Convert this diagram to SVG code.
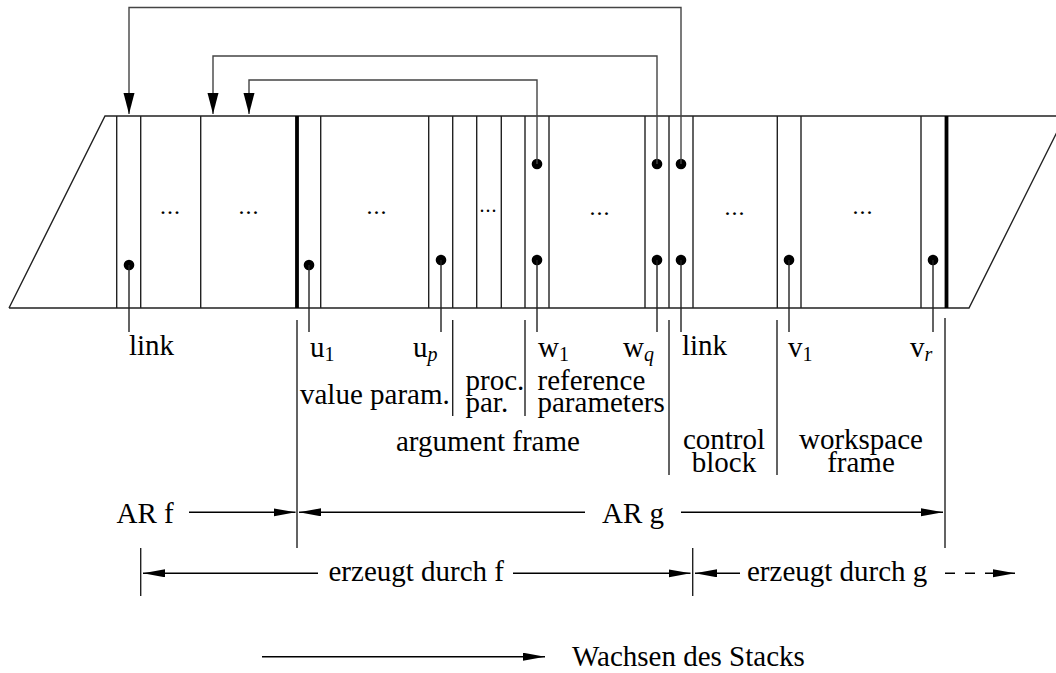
<svg xmlns="http://www.w3.org/2000/svg" width="1056" height="673" viewBox="0 0 1056 673">
<style>
.t{font-family:"Liberation Serif","Times New Roman",serif;font-size:29px;fill:#000}
.s{font-size:20px}
.i{font-style:italic}
.dd{font-size:24px;letter-spacing:1px}
.st{stroke:#222;stroke-width:1.4;fill:none}
.thick{stroke:#000;stroke-width:3.8;fill:none}
.cn{stroke:#444;stroke-width:1.4;fill:none}
.dim{stroke:#000;stroke-width:1.6;fill:none}
.dot{fill:#000}
</style>
<defs>
<marker id="ah" markerUnits="userSpaceOnUse" markerWidth="22" markerHeight="12" refX="21" refY="5.5" orient="auto"><path d="M0,0 L21,5.5 L0,11 z" fill="#000"/></marker>
<marker id="ad" markerUnits="userSpaceOnUse" markerWidth="23" markerHeight="9" refX="22" refY="4" orient="auto-start-reverse"><path d="M0,0 L22,4 L0,8 z" fill="#000"/></marker>
</defs>

<g id="stack">
<path class="st" d="M9,308 L105,116 L1070,116 M9,308 L969,308 L1065,116"/>
<path class="st" d="M116.7,116V308 M140.7,116V308 M200.7,116V308 M320.7,116V308 M428.7,116V308 M452.7,116V308 M476.7,116V308 M501.3,116V308 M525,116V308 M549,116V308 M645,116V308 M669,116V308 M693,116V308 M777.3,116V308 M801,116V308 M921,116V308"/>
<path class="thick" d="M297,116V308 M946.5,116V308"/>
<g class="t dd" text-anchor="middle">
<text x="170.5" y="214">...</text>
<text x="249" y="214">...</text>
<text x="377" y="214">...</text>
<text x="488.5" y="212" font-size="20">...</text>
<text x="600" y="215">...</text>
<text x="735" y="215">...</text>
<text x="863" y="214">...</text>
</g>
</g>

<g id="pointers">
<circle class="dot" cx="129" cy="265" r="5.3"/>
<circle class="dot" cx="309" cy="265" r="5.3"/>
<circle class="dot" cx="441" cy="260" r="5.3"/>
<circle class="dot" cx="537" cy="260" r="5.3"/>
<circle class="dot" cx="657" cy="260" r="5.3"/>
<circle class="dot" cx="681" cy="260" r="5.3"/>
<circle class="dot" cx="789" cy="260" r="5.3"/>
<circle class="dot" cx="933" cy="260" r="5.3"/>
<circle class="dot" cx="537" cy="164" r="5.3"/>
<circle class="dot" cx="657" cy="164" r="5.3"/>
<circle class="dot" cx="681" cy="164" r="5.3"/>
<path class="st" d="M129,265V332 M309,265V332 M441,260V332 M537,260V332 M657,260V332 M681,260V332 M789,260V332 M933,260V332"/>
</g>

<g id="connectors">
<path class="cn" d="M681,164 V7.5 H129 V114" marker-end="url(#ah)"/>
<path class="cn" d="M657,164 V56 H213 V114" marker-end="url(#ah)"/>
<path class="cn" d="M537,164 V80 H249 V114" marker-end="url(#ah)"/>
</g>

<g id="partitions">
<path class="st" d="M297,320V548 M452.7,320V416 M525,320V416 M669,320V475 M777,320V475 M945,318V548 M140.7,548V596 M692.7,548V596"/>
</g>

<g id="labels" class="t">
<text x="129" y="355">link</text>
<text x="310" y="357">u<tspan class="s" dy="4">1</tspan></text>
<text x="413" y="357">u<tspan class="s i" dy="4">p</tspan></text>
<text x="538" y="357">w<tspan class="s" dy="4">1</tspan></text>
<text x="623" y="357">w<tspan class="s i" dy="4">q</tspan></text>
<text x="682" y="355">link</text>
<text x="788" y="357">v<tspan class="s" dy="4">1</tspan></text>
<text x="910" y="357">v<tspan class="s i" dy="4">r</tspan></text>
<text x="300" y="404">value param.</text>
<text x="465.5" y="390">proc.<tspan x="465.5" dy="22">par.</tspan></text>
<text x="537.5" y="390">reference<tspan x="537.5" dy="22">parameters</tspan></text>
<text x="396" y="451">argument frame</text>
<text x="724" y="449" text-anchor="middle">control<tspan x="724" dy="23">block</tspan></text>
<text x="861" y="449" text-anchor="middle">workspace<tspan x="861" dy="23">frame</tspan></text>
</g>

<g id="ranges">
<g class="t">
<text x="116.5" y="523">AR f</text>
<text x="602" y="523">AR g</text>
<text x="328.5" y="581">erzeugt durch f</text>
<text x="747" y="581">erzeugt durch g</text>
<text x="572" y="666">Wachsen des Stacks</text>
</g>
<path class="dim" d="M189,512.3 H295.5" marker-end="url(#ad)"/>
<path class="dim" d="M299,512.3 H585" marker-start="url(#ad)"/>
<path class="dim" d="M681,512.3 H943" marker-end="url(#ad)"/>
<path class="dim" d="M143,573.3 H318" marker-start="url(#ad)"/>
<path class="dim" d="M513,573.3 H690.5" marker-end="url(#ad)"/>
<path class="dim" d="M695,573.3 H740" marker-start="url(#ad)"/>
<path class="dim" d="M945,573.3 H1015" stroke-dasharray="10,10" marker-end="url(#ad)"/>
<path class="dim" d="M262,656.7 H545" marker-end="url(#ad)"/>
</g>
</svg>
